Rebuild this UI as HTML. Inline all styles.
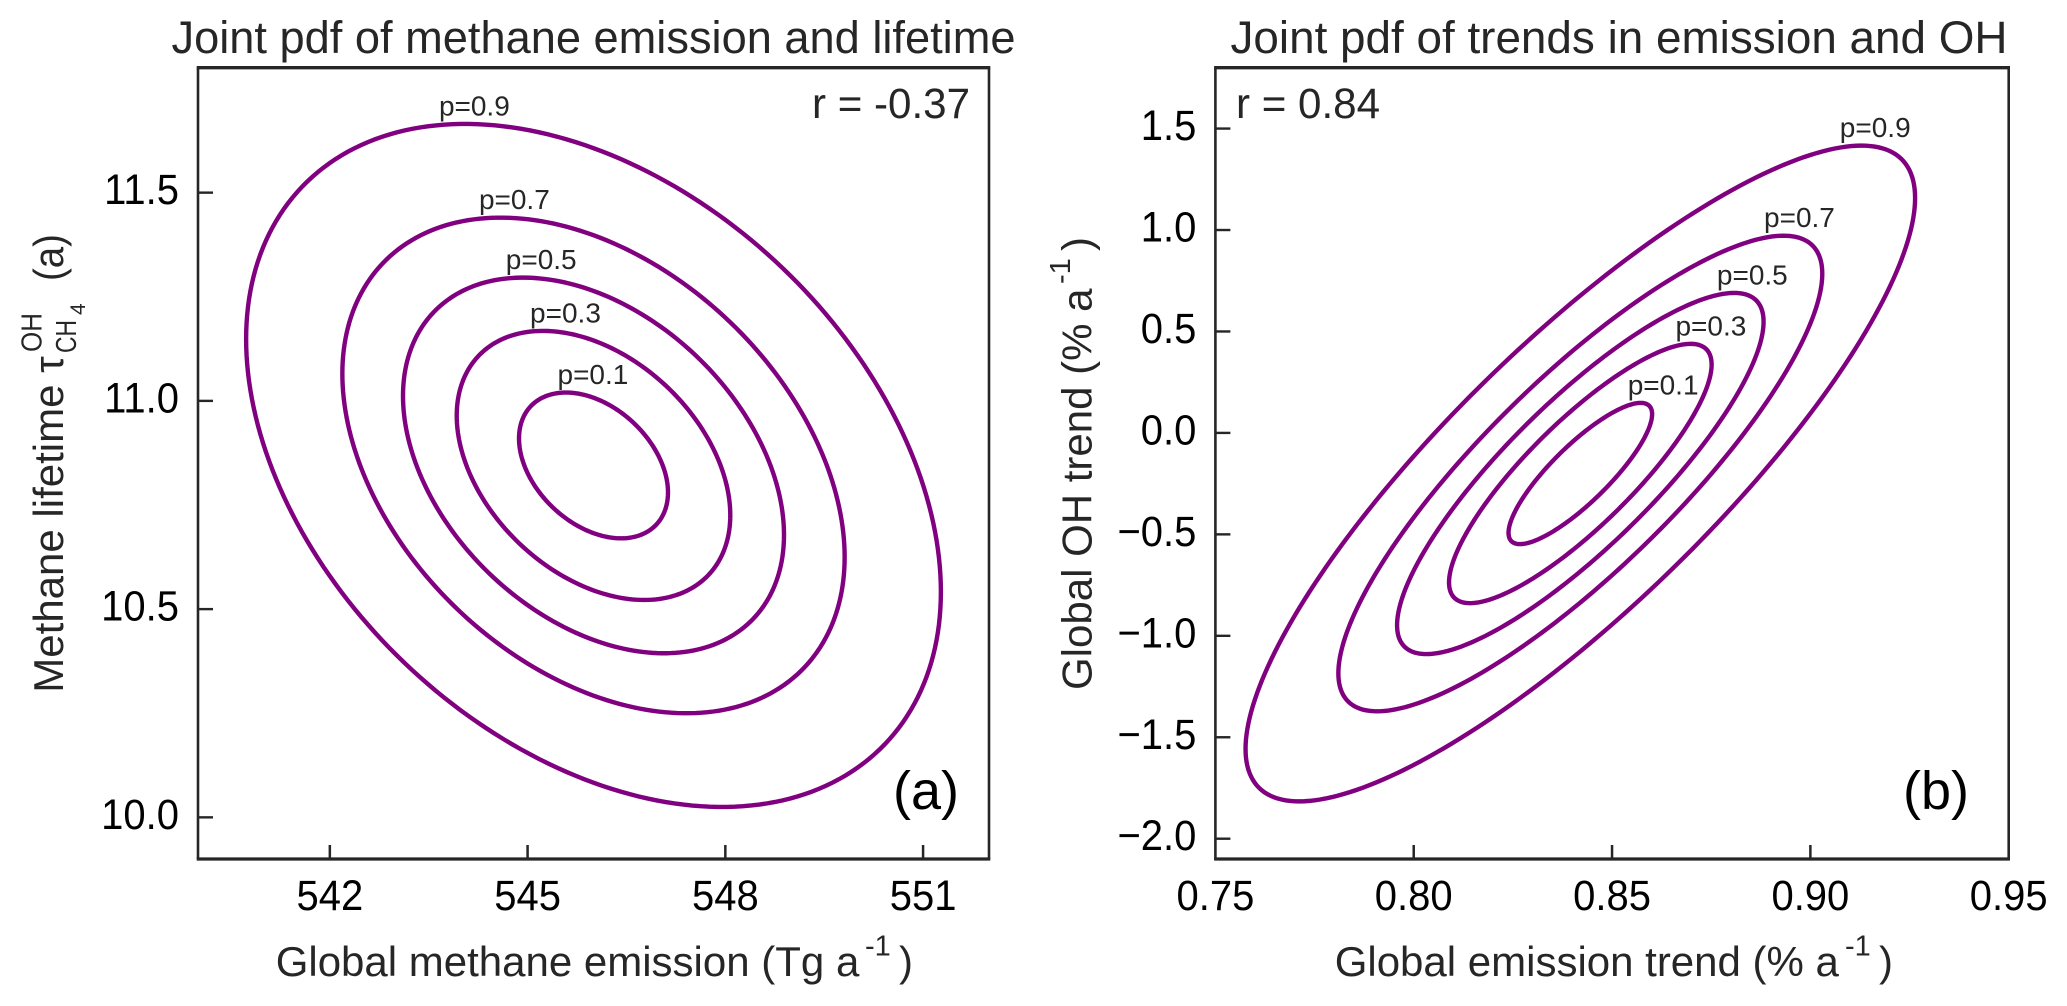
<!DOCTYPE html>
<html lang="en">
<head>
<meta charset="utf-8">
<title>Joint pdf charts</title>
<style>
html,body{margin:0;padding:0;background:#fff;}
svg{display:block;}
text{font-family:"Liberation Sans",Arial,sans-serif;fill:#262626;}
.tick{font-size:43px;fill:#000;}
.title{font-size:45px;}
.axis{font-size:42px;}
.sup{font-size:29px;}
.note{font-size:43px;}
.panel-letter{font-size:54px;fill:#000;}
.level{font-size:28px;}
</style>
</head>
<body>
<svg id="figure" xmlns="http://www.w3.org/2000/svg" width="2067" height="1006" viewBox="0 0 2067 1006">
  <rect x="0" y="0" width="2067" height="1006" fill="#fff"/>

  <text class="title" x="171.5" y="53" textLength="844" lengthAdjust="spacingAndGlyphs">Joint pdf of methane emission and lifetime</text>
  <text class="title" x="1230.5" y="53" textLength="777" lengthAdjust="spacingAndGlyphs">Joint pdf of trends in emission and OH</text>

  <g id="panelA"></g>
  <g id="panelB"></g>

  <g>
    <text class="axis" x="275.7" y="976">Global methane emission (Tg a</text>
    <text class="sup" x="865" y="955.7">-1</text>
    <text class="axis" x="899" y="976">)</text>
  </g>
  <g>
    <text class="axis" x="1334.7" y="976">Global emission trend (% a</text>
    <text class="sup" x="1845" y="955.7">-1</text>
    <text class="axis" x="1879" y="976">)</text>
  </g>
  <g>
    <text class="axis" transform="translate(63,692.7) rotate(-90)">Methane lifetime τ</text>
    <text class="sup" transform="translate(41.7,352) rotate(-90)" textLength="39" lengthAdjust="spacingAndGlyphs">OH</text>
    <text class="sup" transform="translate(76,353) rotate(-90)" textLength="33" lengthAdjust="spacingAndGlyphs">CH</text>
    <text class="sup" style="font-size:21px" transform="translate(85,315) rotate(-90)">4</text>
    <text class="axis" transform="translate(63,281) rotate(-90)" textLength="47" lengthAdjust="spacingAndGlyphs">(a)</text>
  </g>
  <g>
    <text class="axis" transform="translate(1091.7,690) rotate(-90)">Global OH trend (% a</text>
    <text class="sup" transform="translate(1070,284) rotate(-90)">-1</text>
    <text class="axis" transform="translate(1091.7,251) rotate(-90)">)</text>
  </g>

  <text class="note" x="812" y="118" textLength="158" lengthAdjust="spacingAndGlyphs">r = -0.37</text>
  <text class="note" x="1236" y="118" textLength="144" lengthAdjust="spacingAndGlyphs">r = 0.84</text>
  <text class="panel-letter" x="893" y="809">(a)</text>
  <text class="panel-letter" x="1903" y="809">(b)</text>
</svg>
<script>
// Probability levels shared by both panels (innermost to outermost contour)
const contourLevels = [0.1, 0.3, 0.5, 0.7, 0.9];

// Panel (a): methane emission vs lifetime
const panelAXLimits = [540, 552];
const panelAYLimits = [9.9, 11.8];
const panelAXTicks = [542, 545, 548, 551];
const panelAYTicks = [10.0, 10.5, 11.0, 11.5];
const panelAXTickLabels = ['542', '545', '548', '551'];
const panelAYTickLabels = ['10.0', '10.5', '11.0', '11.5'];
const panelACenter = [546.0, 10.845];
const panelAHalfWidth = [1.13, 2.075, 2.89, 3.81, 5.27];
const panelAHalfHeight = [0.175, 0.323, 0.451, 0.595, 0.82];
const panelACorrelation = -0.37;

// Panel (b): emission trend vs OH trend
const panelBXLimits = [0.75, 0.95];
const panelBYLimits = [-2.1, 1.8];
const panelBXTicks = [0.75, 0.80, 0.85, 0.90, 0.95];
const panelBYTicks = [-2.0, -1.5, -1.0, -0.5, 0.0, 0.5, 1.0, 1.5];
const panelBXTickLabels = ['0.75', '0.80', '0.85', '0.90', '0.95'];
const panelBYTickLabels = ['\u22122.0', '\u22121.5', '\u22121.0', '\u22120.5', '0.0', '0.5', '1.0', '1.5'];
const panelBCenter = [0.842, -0.2];
const panelBHalfWidth = [0.0181, 0.0331, 0.0462, 0.0610, 0.0844];
const panelBHalfHeight = [0.348, 0.639, 0.890, 1.172, 1.616];
const panelBCorrelation = 0.84;

const SVG_NS = 'http://www.w3.org/2000/svg';

function drawPanel(cfg) {
  const g = document.getElementById(cfg.groupId);
  const sx = function (v) {
    return cfg.left + (v - cfg.xLimits[0]) / (cfg.xLimits[1] - cfg.xLimits[0]) * (cfg.right - cfg.left);
  };
  const sy = function (v) {
    return cfg.bottom - (v - cfg.yLimits[0]) / (cfg.yLimits[1] - cfg.yLimits[0]) * (cfg.bottom - cfg.top);
  };

  // contours
  cfg.levels.forEach(function (level, i) {
    const a = cfg.halfWidth[i];
    const b = cfg.halfHeight[i];
    const phi = Math.acos(cfg.rho);
    let d = '';
    for (let k = 0; k < 240; k++) {
      const t = k / 240 * 2 * Math.PI;
      const px = sx(cfg.center[0] + a * Math.cos(t));
      const py = sy(cfg.center[1] + b * Math.cos(t - phi));
      d += (k === 0 ? 'M' : 'L') + px.toFixed(2) + ' ' + py.toFixed(2);
    }
    const path = document.createElementNS(SVG_NS, 'path');
    path.setAttribute('d', d + 'Z');
    path.setAttribute('fill', 'none');
    path.setAttribute('stroke', '#800080');
    path.setAttribute('stroke-width', '4.4');
    
    
    g.appendChild(path);

    const label = document.createElementNS(SVG_NS, 'text');
    label.setAttribute('class', 'level');
    label.setAttribute('text-anchor', 'middle');
    const topX = sx(cfg.center[0] + a * cfg.rho);
    const topY = sy(cfg.center[1] + b);
    label.setAttribute('x', (topX + cfg.labelNudge(level)).toFixed(2));
    label.setAttribute('y', (topY - 8.5).toFixed(2));
    
    
    label.textContent = 'p=' + level.toFixed(1);
    g.appendChild(label);
  });

  // x ticks
  cfg.xTicks.forEach(function (v, i) {
    const x = sx(v);
    if (v > cfg.xLimits[0] && v < cfg.xLimits[1]) {
      const tick = document.createElementNS(SVG_NS, 'line');
      tick.setAttribute('x1', x);
      tick.setAttribute('x2', x);
      tick.setAttribute('y1', cfg.bottom);
      tick.setAttribute('y2', cfg.bottom - 14);
      tick.setAttribute('stroke', '#262626');
      tick.setAttribute('stroke-width', '2.5');
      
      
      g.appendChild(tick);
    }
    const text = document.createElementNS(SVG_NS, 'text');
    text.setAttribute('class', 'tick');
    text.setAttribute('text-anchor', 'middle');
    text.setAttribute('transform', 'translate(' + x + ',910) scale(0.93,1)');
    
    
    text.textContent = cfg.xTickLabels[i];
    g.appendChild(text);
  });

  // y ticks
  cfg.yTicks.forEach(function (v, i) {
    const y = sy(v);
    const tick = document.createElementNS(SVG_NS, 'line');
    tick.setAttribute('x1', cfg.left);
    tick.setAttribute('x2', cfg.left + 15);
    tick.setAttribute('y1', y);
    tick.setAttribute('y2', y);
    tick.setAttribute('stroke', '#262626');
    tick.setAttribute('stroke-width', '2.4');
    
    
    g.appendChild(tick);
    const text = document.createElementNS(SVG_NS, 'text');
    text.setAttribute('class', 'tick');
    text.setAttribute('text-anchor', 'end');
    text.setAttribute('transform', 'translate(' + (cfg.left - 19) + ',' + (y + 11.5) + ') scale(0.93,1)');
    
    
    text.textContent = cfg.yTickLabels[i];
    g.appendChild(text);
  });

  // frame: horizontal spines read slightly heavier than vertical ones
  const frameV = document.createElementNS(SVG_NS, 'path');
  frameV.setAttribute('d', 'M' + cfg.left + ' ' + cfg.top + 'V' + cfg.bottom + 'M' + cfg.right + ' ' + cfg.top + 'V' + cfg.bottom);
  frameV.setAttribute('fill', 'none');
  frameV.setAttribute('stroke', '#262626');
  frameV.setAttribute('stroke-width', '2.6');
  
  
  g.appendChild(frameV);

  const frameH = document.createElementNS(SVG_NS, 'path');
  frameH.setAttribute('d', 'M' + (cfg.left - 1.3) + ' ' + cfg.top + 'H' + (cfg.right + 1.3) + 'M' + (cfg.left - 1.3) + ' ' + cfg.bottom + 'H' + (cfg.right + 1.3));
  frameH.setAttribute('fill', 'none');
  frameH.setAttribute('stroke', '#262626');
  frameH.setAttribute('stroke-width', '3.3');
  
  
  g.appendChild(frameH);
}

drawPanel({
  groupId: 'panelA', key: 'a',
  left: 198, right: 989, top: 67.7, bottom: 859,
  xLimits: panelAXLimits, yLimits: panelAYLimits,
  xTicks: panelAXTicks, yTicks: panelAYTicks,
  xTickLabels: panelAXTickLabels, yTickLabels: panelAYTickLabels,
  levels: contourLevels, center: panelACenter,
  halfWidth: panelAHalfWidth, halfHeight: panelAHalfHeight, rho: panelACorrelation,
  labelNudge: function (level) { return 27 - (level - 0.1) * 22; }
});

drawPanel({
  groupId: 'panelB', key: 'b',
  left: 1215.4, right: 2008.7, top: 67.7, bottom: 859,
  xLimits: panelBXLimits, yLimits: panelBYLimits,
  xTicks: panelBXTicks, yTicks: panelBYTicks,
  xTickLabels: panelBXTickLabels, yTickLabels: panelBYTickLabels,
  levels: contourLevels, center: panelBCenter,
  halfWidth: panelBHalfWidth, halfHeight: panelBHalfHeight, rho: panelBCorrelation,
  labelNudge: function (level) { return 22.5 - (level - 0.1) * 11; }
});
</script>
</body>
</html>
